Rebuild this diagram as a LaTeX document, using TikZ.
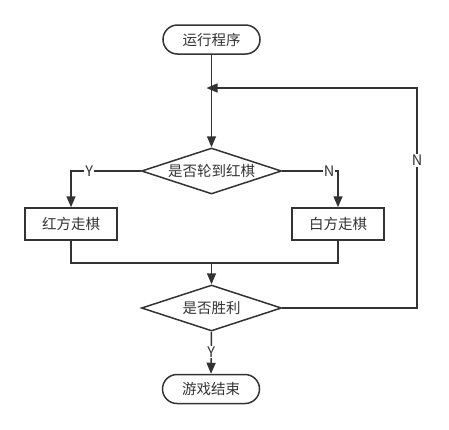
\documentclass[tikz,border=0pt]{standalone}
\usepackage{fontspec}
\setmainfont{Noto Sans CJK SC}
\usetikzlibrary{shapes.geometric,arrows.meta}
\definecolor{ln}{HTML}{333333}
\begin{document}
\begin{tikzpicture}[x=1pt,y=-1pt,
  every node/.style={font=\fontsize{14.5}{17}\selectfont, text=ln, inner sep=0pt},
  term/.style={draw=ln, line width=1.5pt, rounded corners=14.5pt, minimum width=97pt, minimum height=29pt},
  proc/.style={draw=ln, line width=1.5pt, minimum width=92pt, minimum height=32pt},
  dec/.style={draw=ln, line width=1.5pt, diamond, aspect=3, minimum width=140pt, minimum height=46pt, inner sep=0pt},
  conn/.style={draw=ln, line width=1.5pt, -{Triangle[length=11pt,width=9pt]}},
  plain/.style={draw=ln, line width=1.5pt},
  lbl/.style={fill=white, inner sep=1pt, font=\fontsize{14.5}{17}\selectfont}]
\useasboundingbox (0,0) rectangle (449,429);
\node[term] (start) at (211.5,39.5) {运行程序};
\coordinate (merge) at (211.5,88);
\node[dec] (d1) at (211.5,171) {};
\node at (211.5,171) {是否轮到红棋};
\node[proc] (red) at (71,224) {红方走棋};
\node[proc] (white) at (338,224) {白方走棋};
\coordinate (join) at (211.5,263);
\node[dec] (d2) at (211.5,308) {};
\node at (211.5,308) {是否胜利};
\node[term] (end) at (211,389) {游戏结束};
\coordinate (rt) at (417,88);
\coordinate (rb) at (417,308);

\draw[plain] (start.south) -- (merge);
\draw[conn] (merge) -- (d1.north);
\draw[conn] (d1.west) -| node[lbl, pos=0.37] {Y} (red.north);
\draw[conn] (d1.east) -| node[lbl, pos=0.42] {N} (white.north);
\draw[plain] (red.south) |- (join);
\draw[plain] (white.south) |- (join);
\draw[conn] (join) -- (d2.north);
\draw[conn] (d2.south) -- node[lbl, pos=0.48] {Y} (end.north);
\draw[conn, shorten >=-5pt] (d2.east) -- (rb) -- node[lbl, pos=0.67] {N} (rt) -- (merge);
\end{tikzpicture}
\end{document}
